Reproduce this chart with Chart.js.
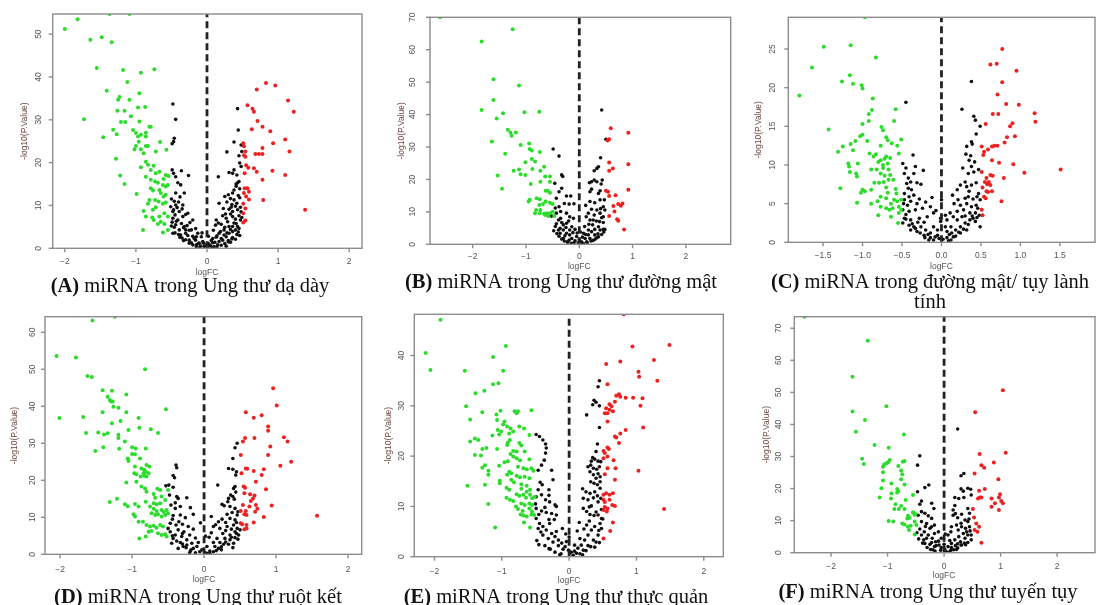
<!DOCTYPE html>
<html><head><meta charset="utf-8">
<script src="https://cdn.jsdelivr.net/npm/chart.js@4.4.1/dist/chart.umd.min.js"></script>
<style>
html,body{margin:0;padding:0;background:#fff;width:1099px;height:605px;overflow:hidden}
canvas{position:absolute;left:0;top:0}
</style></head><body>
<canvas id="cA" width="1099" height="605"></canvas>
<canvas id="cB" width="1099" height="605"></canvas>
<canvas id="cC" width="1099" height="605"></canvas>
<canvas id="cD" width="1099" height="605"></canvas>
<canvas id="cE" width="1099" height="605"></canvas>
<canvas id="cF" width="1099" height="605"></canvas>
<script>
// ---------- captions ----------
const captions = {
  A: ["(A)", " miRNA trong Ung thư dạ dày"],
  B: ["(B)", " miRNA trong Ung thư đường mật"],
  C: ["(C)", " miRNA trong đường mật/ tụy lành", "tính"],
  D: ["(D)", " miRNA trong Ung thư ruột kết"],
  E: ["(E)", " miRNA trong Ung thư thực quản"],
  F: ["(F)", " miRNA trong Ung thư tuyến tụy"]
};
const xTitle = "logFC";
const yTitle = "-log10(P.Value)";

// ---------- tick labels ----------
const xTicksInt = [-2, -1, 0, 1, 2];
const xTicksC = [-1.5, -1.0, -0.5, 0.0, 0.5, 1.0, 1.5];
const yTicksA = [0, 10, 20, 30, 40, 50];
const yTicksB = [0, 10, 20, 30, 40, 50, 60, 70];
const yTicksC = [0, 5, 10, 15, 20, 25];
const yTicksD = [0, 10, 20, 30, 40, 50, 60];
const yTicksE = [0, 10, 20, 30, 40];
const yTicksF = [0, 10, 20, 30, 40, 50, 60, 70];

// ---------- Panel A data [logFC, -log10 P] ----------
const aGreen = [[-2.0,51.2],[-1.82,53.5],[-1.37,54.7],[-1.09,54.7],[-1.64,48.7],[-1.48,49.3],[-1.34,48.1],[-1.55,42.1],[-1.18,41.6],[-0.93,41.0],[-0.74,41.8],[-1.12,38.8],[-1.41,36.8],[-1.23,35.3],[-1.25,34.7],[-1.09,34.7],[-0.95,36.2],[-1.26,32.1],[-1.16,32.1],[-0.97,32.9],[-0.87,33.0],[-1.73,30.1],[-1.07,30.8],[-1.21,29.5],[-1.15,29.5],[-0.95,29.6],[-1.32,27.7],[-1.04,27.6],[-1.27,26.6],[-1.46,25.9],[-1.0,26.9],[-0.97,26.1],[-0.93,26.5],[-0.86,27.0],[-0.81,28.4],[-0.79,28.4],[-0.86,26.1],[-0.66,24.8],[-0.96,24.9],[-1.0,23.9],[-0.86,23.9],[-0.83,23.9],[-1.02,23.1],[-0.93,23.1],[-0.89,22.2],[-0.72,22.6],[-0.57,23.0],[-1.28,20.9],[-0.86,20.2],[-0.83,19.5],[-0.75,19.3],[-0.93,18.9],[-0.79,18.3],[-0.72,17.5],[-0.67,17.9],[-0.58,17.1],[-0.54,16.9],[-0.61,16.2],[-1.22,17.0],[-0.86,16.7],[-0.79,16.0],[-0.73,15.6],[-0.69,15.3],[-0.62,14.8],[-1.16,15.0],[-0.58,14.4],[-0.55,14.8],[-0.79,14.0],[-0.76,13.5],[-0.67,13.6],[-0.65,12.9],[-0.61,12.1],[-0.58,12.5],[-0.99,12.7],[-0.81,11.3],[-0.73,11.3],[-0.68,10.9],[-0.83,10.4],[-0.62,10.4],[-0.58,10.7],[-0.89,8.7],[-0.76,9.0],[-0.72,9.6],[-0.6,8.2],[-0.55,7.4],[-0.67,7.4],[-0.77,7.2],[-0.75,6.6],[-0.86,7.4],[-0.65,6.2],[-0.6,5.7],[-0.69,5.7],[-0.9,4.3],[-0.62,3.7],[-0.55,4.3]];
const aRed = [[0.83,38.6],[0.96,38.0],[0.70,37.1],[1.14,34.5],[1.22,31.9],[0.57,33.4],[0.64,32.6],[0.66,31.9],[0.71,29.7],[0.63,27.8],[0.78,28.4],[0.89,27.3],[1.10,25.4],[0.51,24.5],[0.52,23.8],[0.93,24.5],[0.78,23.4],[0.54,22.6],[0.68,22.0],[0.73,22.0],[0.78,22.0],[1.16,22.6],[0.52,21.7],[0.54,21.4],[0.55,19.4],[0.58,18.8],[0.66,18.7],[0.70,17.9],[0.53,17.5],[0.92,18.1],[1.10,17.1],[0.78,16.0],[0.53,14.0],[0.57,14.0],[0.59,13.2],[0.52,12.9],[0.55,12.1],[0.59,11.4],[0.79,11.3],[0.51,10.4],[0.54,9.3],[1.38,9.0],[0.51,8.2],[0.54,6.5],[0.51,6.0]];
const aBlack = [[-0.48,33.7],[-0.44,30.1],[-0.46,25.7],[-0.47,24.9],[-0.49,24.4],[0.43,32.6],[0.44,27.6],[0.38,24.8],[0.28,22.5],[0.48,24.1],[0.49,22.6],[0.45,21.6],[0.46,19.9],[0.48,19.1],[0.38,18.3],[0.36,17.5],[0.42,17.1],[0.31,17.7],[0.16,16.7],[-0.26,17.0],[-0.49,18.3],[-0.47,17.5],[-0.44,16.7],[-0.36,18.1],[-0.41,15.3],[-0.37,14.8],[0.45,15.6],[0.43,15.3],[0.41,15.0],[-0.44,12.9],[-0.32,12.9],[0.36,12.9],[0.30,12.5],[0.25,12.1],[0.38,11.3],[0.42,10.5],[-0.51,9.7],[-0.44,10.1],[-0.34,10.1],[0.17,10.5],[0.23,9.3],[0.31,9.1],[-0.48,8.6],[-0.39,8.6],[-0.27,8.2],[0.36,8.6],[0.43,9.0],[-0.48,7.0],[-0.41,6.6],[-0.34,7.4],[-0.2,6.6],[0.13,6.6],[0.27,7.0],[0.36,7.4],[0.45,7.6],[-0.44,5.5],[-0.32,5.1],[-0.22,4.3],[-0.13,3.5],[-0.08,2.7],[-0.06,1.6],[-0.01,0.8],[0.03,0.8],[0.08,1.3],[0.13,2.6],[0.17,3.5],[0.24,4.3],[0.31,5.1],[0.41,5.8],[-0.39,4.3],[-0.30,3.5],[-0.18,2.3],[-0.11,1.2],[-0.04,0.4],[0.01,0.2],[0.10,0.4],[0.17,1.6],[0.27,2.7],[0.36,3.9],[0.43,5.1],[-0.37,3.1],[-0.25,1.9],[-0.15,0.8],[0.15,0.8],[0.22,1.9],[0.31,3.5],[-0.48,3.5],[-0.30,4.3],[-0.15,2.7],[0.08,2.3],[0.36,5.1],[-0.50,11.5],[-0.46,11.0],[-0.42,9.5],[-0.38,12.0],[-0.47,9.0],[-0.35,9.2],[-0.30,7.9],[-0.45,7.8],[0.28,10.8],[0.33,11.6],[0.40,9.8],[0.46,11.8],[0.47,9.6],[0.44,12.3],[0.38,13.6],[0.46,13.9],[0.41,14.5],[0.35,10.2],[0.48,8.5],[0.26,8.0],[0.22,7.6],[0.33,8.0],[0.40,6.8],[0.47,6.6],[0.12,5.4],[0.2,5.6],[0.29,6.2],[0.38,5.9],[-0.49,6.1],[-0.43,6.3],[-0.36,5.8],[-0.28,5.3],[-0.25,4.2],[-0.33,4.8],[-0.46,4.9],[-0.40,3.2],[-0.35,2.4],[-0.27,3.0],[-0.2,2.8],[-0.22,1.3],[-0.16,1.9],[-0.12,1.1],[-0.09,0.5],[-0.05,1.2],[-0.03,0.3],[0.02,1.1],[0.05,0.6],[0.06,1.8],[0.11,1.4],[0.14,2.9],[0.2,2.3],[0.24,3.1],[0.19,3.9],[0.28,3.6],[0.33,4.4],[0.25,4.9],[0.4,4.3],[0.44,3.8],[0.35,2.2],[0.3,1.5],[-0.3,2.0],[-0.25,1.2],[-0.2,0.8],[-0.15,0.4],[-0.1,0.15],[0.07,0.1],[0.14,0.3],[0.2,0.7],[0.25,1.1],[0.3,1.8],[0.36,2.5],[0.42,3.2],[-0.38,2.6],[-0.33,1.8],[-0.45,3.6],[0.27,0.5],[0.33,1.4],[0.4,2.1],[0.46,3.0],[-0.07,3.6],[0.02,2.8],[0.09,4.2],[-0.16,4.6],[0.16,5.9],[-0.24,6.0],[0.34,9.6],[-0.4,10.8],[0.45,4.6],[-0.5,5.2],[0.49,7.2]];

// ---------- Panel B data ----------
const bGreen = [[-2.61,70],[-1.25,66.3],[-1.83,62.5],[-1.61,50.9],[-1.13,49.0],[-1.61,44.5],[-1.83,41.4],[-1.43,40.4],[-1.03,40.7],[-0.75,40.9],[-1.55,38.8],[-1.34,35.3],[-1.29,34.5],[-1.19,34.5],[-1.27,33.5],[-1.64,31.7],[-0.94,31.1],[-1.1,30.6],[-0.93,29.4],[-0.89,28.9],[-0.74,28.5],[-1.39,27.9],[-0.89,26.3],[-0.83,25.5],[-1.01,25.3],[-0.66,23.9],[-1.13,23.1],[-1.23,22.7],[-0.88,23.2],[-0.73,22.7],[-1.1,21.6],[-1.01,21.4],[-1.53,21.2],[-0.64,20.9],[-0.55,20.9],[-0.73,19.3],[-0.55,19.3],[-0.91,18.6],[-1.45,17.1],[-0.63,16.5],[-0.59,16.5],[-0.55,15.9],[-0.8,14.2],[-0.74,13.9],[-0.93,13.7],[-0.95,13.2],[-0.63,13.2],[-0.55,12.8],[-0.5,12.4],[-0.68,12.4],[-0.81,10.6],[-0.73,10.6],[-0.83,9.6],[-0.74,9.6],[-0.66,9.4],[-0.61,9.6],[-0.55,9.6],[-0.5,10.0],[-0.58,8.7],[-0.64,9.0],[-0.75,12.1],[-0.47,8.7]];
const bRed = [[0.59,35.8],[0.92,34.4],[0.53,32.0],[0.56,32.4],[0.56,25.2],[0.63,23.4],[0.56,22.7],[0.92,24.7],[0.5,16.5],[0.54,16.2],[0.68,15.1],[0.56,14.9],[0.92,16.8],[0.64,11.8],[0.73,12.4],[0.78,11.9],[0.81,12.6],[0.66,10.1],[0.56,8.7],[0.71,7.7],[0.73,7.3],[0.84,4.6]];
const bBlack = [[0.42,41.4],[-0.49,29.4],[-0.38,27.2],[0.4,26.7],[0.5,32.4],[0.33,23.4],[0.36,23.9],[0.28,22.7],[-0.33,21.4],[-0.31,20.9],[0.19,19.0],[0.23,19.3],[0.28,19.8],[0.33,19.3],[-0.46,18.8],[0.43,19.8],[0.41,18.6],[-0.33,17.3],[-0.38,16.2],[0.2,16.2],[0.23,17.0],[0.39,16.5],[0.36,15.7],[-0.24,14.9],[-0.16,14.9],[-0.43,14.2],[0.2,13.2],[0.29,12.8],[0.39,13.7],[0.47,13.7],[-0.28,12.6],[-0.19,12.4],[-0.38,11.6],[0.45,11.6],[0.48,10.6],[0.39,9.6],[0.33,10.6],[0.23,10.8],[0.17,9.6],[-0.35,10.1],[-0.24,9.6],[-0.43,9.6],[-0.52,8.7],[-0.18,8.5],[-0.11,8.0],[0.13,8.5],[0.2,7.5],[0.26,7.5],[0.38,7.0],[0.45,6.7],[-0.39,7.5],[-0.33,6.7],[-0.24,6.5],[0.45,4.6],[0.48,4.6],[-0.43,6.3],[-0.36,4.9],[-0.30,4.4],[-0.24,3.4],[-0.18,2.9],[-0.14,1.8],[-0.08,1.1],[-0.02,0.5],[0.04,0.8],[0.11,1.8],[0.17,2.9],[0.23,3.9],[0.29,4.6],[0.36,5.4],[0.39,4.4],[-0.36,3.4],[-0.27,2.6],[-0.19,1.3],[-0.10,0.5],[0.03,0.3],[0.14,0.8],[0.2,1.8],[0.29,2.9],[-0.39,4.4],[-0.18,4.4],[0.08,3.4],[0.17,4.4],[-0.05,2.4],[-0.3,6.0],[-0.25,5.2],[-0.12,3.6],[0.0,1.5],[0.06,2.2],[0.12,3.0],[0.25,6.0],[0.32,7.2],[0.42,8.2],[-0.45,5.5],[-0.2,7.2],[0.35,3.2],[0.1,5.5],[-0.08,4.6],[-0.22,0.8],[0.26,1.2],[-0.3,1.8],[0.33,2.0],[-0.04,3.5],[-0.28,1.0],[-0.22,0.6],[-0.15,0.3],[0.08,0.2],[0.15,0.5],[0.22,1.0],[0.3,1.6],[0.36,2.3],[-0.33,1.6],[-0.38,2.5],[-0.42,3.3],[0.42,3.0],[0.46,3.8],[-0.48,4.2],[0.02,3.8],[-0.14,5.4],[0.18,6.2],[-0.35,8.0],[0.28,9.0],[0.4,11.0],[-0.45,11.2],[0.12,12.0],[-0.1,12.5],[0.45,8.5]];

// ---------- Panel C data ----------
const cGreen = [[-0.97,29.1],[-1.49,25.3],[-1.15,25.5],[-0.83,23.9],[-1.64,22.6],[-1.16,21.6],[-1.26,20.8],[-1.12,20.5],[-1.01,20.3],[-1.0,19.9],[-1.80,19.0],[-0.87,18.6],[-0.58,17.2],[-0.88,17.1],[-0.92,16.6],[-0.92,15.7],[-1.0,15.3],[-0.6,15.7],[-1.43,14.6],[-0.76,14.9],[-0.74,14.5],[-1.0,13.9],[-1.03,13.7],[-0.7,13.6],[-0.68,13.2],[-0.51,13.3],[-1.09,13.1],[-0.94,13.1],[-1.15,12.7],[-1.25,12.4],[-0.63,12.8],[-0.56,12.5],[-0.77,12.5],[-1.12,11.9],[-1.31,11.7],[-0.91,11.5],[-0.83,11.4],[-0.86,11.1],[-0.7,11.1],[-0.72,10.8],[-0.65,10.9],[-0.54,11.5],[-1.18,10.2],[-1.06,10.2],[-0.8,10.4],[-0.77,10.6],[-0.74,10.0],[-0.68,10.2],[-1.17,9.8],[-0.89,9.4],[-0.82,9.4],[-0.74,9.6],[-0.67,9.4],[-1.16,9.1],[-1.08,8.9],[-0.77,8.9],[-0.72,8.6],[-0.65,8.7],[-1.07,8.5],[-0.85,7.7],[-0.79,7.7],[-0.73,7.8],[-0.67,8.1],[-0.61,8.1],[-1.28,7.0],[-1.0,6.8],[-1.02,6.4],[-0.97,6.6],[-0.89,6.8],[-0.7,7.1],[-0.68,6.4],[-0.58,6.9],[-0.57,6.3],[-0.77,5.9],[-0.7,5.7],[-1.07,5.1],[-0.89,5.0],[-0.81,5.3],[-0.6,5.5],[-0.56,5.3],[-0.51,5.5],[-0.64,5.0],[-0.77,4.6],[-0.7,4.4],[-0.66,4.2],[-0.62,4.4],[-0.54,4.6],[-0.51,4.2],[-0.54,3.8],[-0.8,3.5],[-0.64,3.3],[-0.55,2.5]];
const cRed = [[0.77,25.0],[0.62,23.0],[0.70,23.1],[0.95,22.2],[0.77,20.7],[0.71,19.1],[0.82,17.9],[0.98,17.8],[1.18,16.7],[1.19,15.6],[0.65,16.6],[0.72,16.6],[0.56,15.3],[0.9,15.4],[0.87,15.0],[0.83,13.6],[0.93,13.7],[0.80,12.9],[0.51,12.4],[0.67,12.5],[0.64,12.4],[0.71,12.5],[0.54,11.7],[0.59,12.0],[0.53,11.3],[0.64,10.6],[0.73,10.3],[0.91,10.1],[1.51,9.4],[1.05,9.0],[0.51,9.1],[0.62,8.7],[0.65,8.6],[0.57,8.3],[0.79,8.3],[0.55,7.8],[0.58,7.5],[0.6,7.8],[0.62,7.4],[0.52,7.1],[0.57,6.6],[0.64,6.6],[0.59,6.5],[0.54,5.9],[0.56,5.7],[0.76,5.3],[0.51,4.2],[0.52,3.5]];
const cBlack = [[-0.45,18.1],[0.38,20.8],[0.26,17.2],[0.41,16.3],[0.43,15.8],[0.49,15.0],[0.44,14.0],[-0.36,11.3],[0.38,13.0],[0.39,12.7],[-0.49,10.2],[0.32,12.4],[0.31,11.4],[0.37,11.2],[0.35,10.6],[-0.47,8.9],[-0.35,8.9],[-0.33,9.8],[-0.23,9.3],[0.38,9.8],[0.34,8.9],[0.41,9.1],[0.47,9.4],[-0.44,7.6],[-0.39,7.8],[-0.31,7.7],[-0.26,7.5],[-0.42,7.0],[0.24,7.4],[0.3,7.8],[0.32,7.2],[0.38,7.4],[0.44,7.7],[-0.47,6.3],[-0.41,5.9],[-0.35,6.1],[-0.28,5.6],[-0.39,5.3],[-0.31,5.0],[-0.47,5.5],[-0.43,4.8],[-0.49,4.2],[-0.41,4.0],[-0.33,4.2],[-0.24,4.4],[0.3,5.7],[0.34,5.9],[0.4,5.6],[0.45,5.9],[0.49,5.5],[0.16,5.0],[0.21,5.5],[0.24,4.8],[0.32,5.0],[0.38,4.6],[0.44,4.8],[0.2,4.0],[0.28,4.2],[0.36,3.8],[0.43,3.8],[0.48,3.5],[0.49,2.0],[-0.47,3.1],[-0.39,2.9],[-0.28,3.1],[-0.18,3.3],[-0.1,3.8],[-0.49,2.5],[-0.41,2.2],[-0.35,2.0],[-0.26,2.0],[-0.2,1.6],[-0.14,1.2],[-0.08,0.7],[-0.03,0.5],[0.02,0.4],[0.07,0.6],[0.13,1.2],[0.18,1.6],[0.24,2.0],[0.3,2.5],[0.36,2.9],[0.43,2.7],[0.32,1.6],[0.24,1.2],[0.15,0.7],[0.09,0.2],[-0.1,0.3],[-0.14,0.6],[-0.22,0.9],[-0.31,1.4],[-0.39,1.6],[-0.05,0.9],[0.07,1.4],[0.12,2.0],[-0.05,1.6],[0.05,2.0],[-0.1,2.0],[-0.01,2.7],[0.07,2.9],[0.11,3.8],[0.15,3.3],[-0.01,3.1],[-0.14,4.6],[0.26,3.3],[0.4,3.1],[-0.22,2.6],[0.2,2.9],[0.1,1.0],[-0.17,1.0],[0.46,4.4],[-0.45,3.6],[0.3,3.4],[-0.3,2.6],[-0.45,3.0],[-0.37,2.4],[-0.33,1.8],[-0.27,1.2],[-0.21,0.6],[-0.16,0.3],[0.12,0.3],[0.18,0.8],[0.22,1.3],[0.28,1.7],[0.34,2.3],[0.39,3.4],[0.45,3.2],[-0.48,5.0],[0.47,6.3],[-0.38,6.8],[0.35,6.6],[-0.2,5.2],[0.14,6.1],[0.0,5.5],[-0.07,4.1],[0.05,3.5],[-0.45,9.6],[0.42,10.4],[-0.42,8.3],[0.27,9.6],[0.2,6.8],[-0.12,5.8]];

// ---------- Panel D data ----------
const dGreen = [[-1.55,63.2],[-1.24,64.2],[-2.05,53.6],[-1.78,53.2],[-0.82,50.0],[-1.62,48.2],[-1.56,47.9],[-1.41,44.3],[-1.28,44.2],[-1.08,43.2],[-1.34,42.6],[-1.31,41.7],[-1.29,41.3],[-1.27,41.3],[-1.26,39.9],[-1.19,39.6],[-0.53,39.2],[-1.41,38.4],[-1.08,38.4],[-1.68,37.1],[-2.01,36.8],[-0.91,36.8],[-1.16,36.0],[-1.28,35.4],[-0.9,34.2],[-1.05,33.6],[-0.74,33.8],[-0.64,32.8],[-1.64,32.8],[-1.47,32.9],[-1.39,32.4],[-1.34,32.7],[-1.19,32.3],[-1.19,31.4],[-1.1,30.5],[-1.4,28.9],[-1.0,28.9],[-0.95,28.6],[-1.51,27.9],[-1.18,28.5],[-0.81,28.6],[-1.0,27.1],[-0.96,27.0],[-1.06,25.9],[-1.05,25.2],[-0.89,25.9],[-0.96,23.7],[-0.8,24.1],[-0.76,23.7],[-0.87,23.2],[-0.83,22.8],[-0.81,22.3],[-0.84,21.9],[-0.77,21.9],[-0.97,21.9],[-0.94,21.6],[-0.88,21.0],[-0.83,21.2],[-0.8,21.0],[-1.08,19.4],[-0.94,19.6],[-0.87,18.3],[-0.82,17.8],[-0.8,16.9],[-0.65,17.7],[-0.61,17.4],[-0.5,17.4],[-0.7,16.3],[-1.21,15.0],[-1.31,14.1],[-0.68,15.3],[-0.59,15.6],[-0.54,14.7],[-0.81,14.2],[-0.7,13.8],[-0.66,13.5],[-0.61,13.8],[-1.1,13.5],[-1.06,13.0],[-0.96,13.6],[-0.91,12.9],[-0.75,12.9],[-0.7,12.3],[-0.66,11.7],[-0.59,12.0],[-0.56,11.4],[-0.52,12.0],[-0.73,11.1],[-0.68,10.6],[-0.64,10.8],[-0.59,10.2],[-0.54,10.6],[-0.5,11.1],[-0.98,10.8],[-0.96,10.2],[-0.91,8.8],[-0.85,8.8],[-0.8,7.9],[-0.75,7.5],[-0.7,7.7],[-0.66,7.2],[-0.61,7.9],[-0.57,7.5],[-0.77,6.1],[-0.73,6.3],[-0.64,5.7],[-0.59,5.2],[-0.54,5.4],[-0.52,4.8],[-0.9,4.3],[-0.81,4.8]];
const dRed = [[0.96,44.9],[1.01,40.2],[0.58,38.4],[0.8,37.6],[0.69,36.9],[0.89,34.5],[0.89,33.4],[1.11,31.6],[0.57,31.4],[0.7,31.4],[1.16,30.5],[0.54,30.5],[0.92,29.1],[0.51,26.8],[0.89,26.8],[1.21,25.0],[1.06,23.9],[0.58,23.2],[0.6,23.1],[0.69,22.5],[0.83,23.0],[0.52,21.9],[0.8,21.4],[0.72,19.6],[0.55,18.3],[0.57,18.0],[0.86,17.6],[0.56,16.5],[0.64,16.2],[0.7,15.9],[0.68,15.1],[0.65,14.4],[0.54,13.3],[0.63,12.9],[0.72,13.3],[0.94,13.2],[0.51,11.7],[0.58,11.7],[0.71,11.5],[0.74,12.3],[0.56,10.8],[0.59,10.6],[1.57,10.4],[0.83,10.1],[0.51,8.4],[0.53,8.1],[0.59,7.9],[0.69,8.6],[0.56,6.8],[0.59,7.0]];
const dBlack = [[-0.39,24.1],[-0.38,23.4],[-0.43,21.3],[-0.41,20.7],[-0.53,18.5],[-0.49,18.7],[-0.43,18.1],[-0.38,15.6],[-0.36,15.1],[-0.24,15.3],[-0.46,13.3],[-0.4,12.4],[-0.33,12.9],[-0.19,12.6],[0.46,30.0],[0.43,28.8],[0.4,25.9],[0.34,23.2],[0.4,23.0],[0.45,22.3],[0.44,21.4],[0.19,18.7],[0.41,17.8],[0.43,18.3],[0.37,16.0],[0.4,15.6],[0.34,15.1],[0.42,14.9],[0.25,13.5],[0.28,13.1],[0.36,12.9],[0.43,12.4],[-0.43,10.5],[-0.33,10.6],[-0.26,9.9],[-0.15,10.8],[0.32,10.8],[0.25,9.5],[0.2,8.8],[0.36,9.7],[0.43,9.3],[0.46,10.6],[-0.47,8.4],[-0.39,7.9],[-0.3,8.1],[-0.22,7.5],[0.13,7.5],[0.22,7.0],[0.32,7.5],[0.41,7.9],[0.46,7.0],[-0.47,6.1],[-0.40,5.2],[-0.31,4.8],[-0.24,3.9],[-0.17,3.0],[-0.10,2.1],[-0.03,1.2],[0.01,0.5],[0.08,0.9],[0.15,2.1],[0.22,3.2],[0.29,4.3],[0.36,5.2],[0.43,6.1],[0.48,5.2],[-0.43,4.3],[-0.33,3.2],[-0.24,2.5],[-0.15,1.6],[-0.06,0.7],[0.04,0.3],[0.13,0.7],[0.2,1.6],[0.27,2.7],[0.36,3.9],[0.43,4.5],[-0.45,3.0],[-0.29,2.1],[-0.19,0.9],[0.34,2.7],[0.41,3.0],[0.18,4.3],[0.04,2.1],[-0.08,3.2],[0.13,3.2],[-0.36,6.6],[-0.28,6.1],[-0.2,5.2],[0.1,5.8],[0.26,5.6],[0.38,6.8],[0.45,8.6],[0.3,8.6],[-0.44,9.5],[-0.35,8.8],[0.47,4.1],[-0.12,4.4],[0.24,1.2],[-0.36,1.6],[0.4,1.8],[0.07,4.6],[-0.2,0.4],[0.47,11.5],[0.39,11.3],[-0.38,3.6],[-0.3,2.8],[-0.25,1.8],[-0.18,1.2],[-0.12,0.4],[0.08,0.3],[0.17,1.0],[0.24,2.0],[0.3,3.3],[0.38,4.6],[0.45,5.6],[-0.44,5.0],[-0.5,7.0],[0.5,6.6],[-0.3,5.6],[0.3,6.4],[0.02,4.9],[-0.15,6.8],[0.16,8.0],[-0.4,13.9],[0.33,14.2],[-0.48,16.0],[0.44,16.8],[-0.05,8.5],[0.1,10.2]];

// ---------- Panel E data ----------
const eGreen = [[-1.91,47.1],[-2.13,40.5],[-2.06,37.1],[-0.94,41.9],[-1.13,39.7],[-1.55,37.0],[-0.98,37.0],[-1.05,34.5],[-1.13,34.3],[-1.26,33.0],[-1.39,32.5],[-1.53,29.9],[-1.29,28.7],[-0.56,29.1],[-1.02,29.0],[-1.08,28.3],[-0.81,28.9],[-0.78,28.5],[-0.76,28.9],[-1.47,27.3],[-1.07,27.2],[-0.96,26.9],[-0.98,26.3],[-0.92,25.9],[-0.87,25.5],[-1.06,25.2],[-1.01,24.9],[-1.04,24.3],[-0.74,25.9],[-0.67,25.5],[-0.89,24.5],[-0.83,24.9],[-0.59,24.2],[-1.14,24.1],[-1.4,23.5],[-1.35,23.2],[-1.47,22.9],[-0.88,23.2],[-0.91,22.7],[-0.92,22.2],[-0.74,22.6],[-0.71,22.1],[-1.23,21.6],[-1.29,21.4],[-1.07,21.4],[-0.83,21.0],[-0.78,20.9],[-0.87,20.4],[-1.4,20.2],[-1.31,20.1],[-0.66,20.9],[-0.83,19.9],[-0.78,19.6],[-0.73,19.2],[-0.91,19.0],[-0.96,18.8],[-0.59,19.4],[-1.25,18.2],[-1.29,17.7],[-1.2,17.1],[-1.04,18.1],[-0.76,17.9],[-0.68,17.6],[-0.63,17.4],[-0.56,17.6],[-0.53,17.1],[-0.89,16.9],[-0.86,16.6],[-0.92,16.3],[-1.2,16.3],[-0.78,16.1],[-0.73,15.8],[-0.66,15.9],[-0.59,15.6],[-1.03,15.1],[-1.03,14.6],[-0.86,15.3],[-0.82,14.8],[-1.51,14.1],[-1.25,14.3],[-0.71,14.4],[-0.63,14.1],[-0.93,13.7],[-0.89,13.3],[-0.71,13.5],[-0.63,12.9],[-0.58,13.3],[-0.78,12.4],[-0.74,12.1],[-0.68,12.3],[-0.64,11.7],[-0.58,12.3],[-0.55,11.6],[-0.51,11.9],[-0.93,11.7],[-0.88,11.3],[-0.83,11.1],[-0.71,10.6],[-0.66,10.3],[-0.59,10.6],[-0.55,10.3],[-1.2,10.5],[-0.79,10.0],[-0.76,9.5],[-0.69,9.1],[-0.59,9.6],[-0.55,9.0],[-0.52,8.3],[-0.56,8.4],[-0.68,8.2],[-0.63,8.0],[-0.72,8.4],[-0.67,6.8],[-0.58,5.8],[-1.1,5.8]];
const eRed = [[0.81,48.2],[1.49,42.1],[0.94,41.8],[1.26,39.1],[0.76,38.8],[0.55,38.3],[1.03,36.8],[1.31,35.0],[1.04,35.8],[0.57,34.3],[0.7,32.0],[0.74,32.3],[0.76,31.8],[0.84,31.6],[0.95,31.6],[1.09,31.5],[0.68,30.8],[0.6,30.3],[0.63,29.9],[1.06,30.0],[0.55,29.5],[0.6,29.2],[0.53,28.5],[0.57,28.5],[0.65,28.9],[0.57,26.9],[1.1,25.7],[0.84,25.2],[0.76,24.5],[0.68,23.9],[0.7,23.7],[0.74,22.6],[0.57,21.7],[0.59,21.4],[0.51,21.0],[0.53,20.6],[0.57,19.9],[0.51,19.6],[0.66,19.2],[0.57,17.6],[0.69,17.6],[1.03,17.1],[0.53,16.4],[0.68,15.3],[0.55,12.6],[0.51,12.3],[0.6,12.3],[0.65,12.6],[0.6,11.3],[0.51,11.3],[0.53,10.9],[0.64,10.3],[0.68,10.1],[0.53,9.9],[0.57,9.6],[0.51,9.3],[0.56,9.0],[1.41,9.5],[0.65,6.8],[0.61,5.1],[0.51,3.6]];
const eBlack = [[-0.49,24.3],[-0.44,23.9],[-0.39,23.2],[-0.35,22.4],[-0.34,21.6],[-0.35,20.6],[-0.41,18.2],[-0.46,17.2],[-0.26,17.2],[-0.24,15.3],[-0.4,14.3],[-0.46,13.3],[-0.3,13.3],[0.45,35.0],[0.43,33.8],[0.37,31.1],[0.4,30.7],[0.35,30.2],[0.45,30.0],[0.26,28.2],[0.45,25.7],[0.42,22.4],[0.4,20.9],[0.35,19.7],[0.38,19.4],[0.43,19.0],[0.47,18.9],[0.28,17.9],[0.32,18.2],[0.36,17.6],[0.41,17.4],[0.45,17.9],[0.31,16.9],[0.36,16.3],[0.4,15.6],[0.46,15.9],[0.32,14.9],[0.37,14.6],[0.42,14.3],[0.46,14.9],[0.2,13.5],[0.25,12.9],[0.31,12.6],[0.38,12.9],[0.46,13.6],[-0.49,11.9],[-0.41,12.3],[-0.35,11.3],[-0.29,10.9],[-0.21,10.3],[-0.19,10.0],[0.21,11.6],[0.28,11.3],[0.36,11.7],[0.43,10.9],[0.47,11.6],[-0.49,9.6],[-0.41,9.1],[-0.34,8.8],[-0.26,8.6],[-0.19,8.3],[0.21,9.6],[0.26,9.0],[0.31,8.4],[0.37,8.2],[0.43,8.3],[0.48,7.6],[-0.49,7.6],[-0.44,6.6],[-0.39,6.0],[-0.34,5.3],[-0.26,4.6],[-0.21,4.0],[-0.16,3.3],[-0.11,2.7],[-0.06,2.0],[-0.01,1.3],[0.03,0.9],[0.08,1.1],[0.13,1.7],[0.18,2.3],[0.23,3.3],[0.28,4.3],[0.33,5.3],[0.38,6.0],[0.46,6.6],[-0.46,5.6],[-0.39,4.3],[-0.31,3.6],[-0.24,2.9],[-0.16,2.2],[-0.09,1.5],[0.01,0.7],[0.11,0.7],[0.21,1.3],[0.28,2.2],[0.36,3.3],[0.43,4.3],[0.48,5.6],[0.08,2.3],[-0.04,3.0],[0.16,3.6],[-0.19,5.0],[0.26,6.3],[-0.29,6.6],[-0.45,8.4],[-0.3,7.4],[0.3,7.1],[0.4,8.9],[-0.36,9.8],[0.12,5.1],[-0.05,4.5],[0.48,9.4],[-0.48,3.2],[0.45,2.8],[0.33,10.1],[0.42,12.1],[-0.12,0.6],[0.2,0.4],[-0.3,1.6],[0.38,1.9],[-0.36,2.2],[-0.28,1.5],[-0.21,0.9],[-0.14,0.4],[0.06,0.3],[0.16,0.6],[0.25,1.2],[0.32,2.0],[0.4,2.9],[-0.42,4.9],[-0.45,2.4],[0.44,5.2],[0.5,7.5],[-0.5,10.5],[-0.43,14.8],[0.43,16.5],[0.33,19.0],[-0.37,19.2],[0.0,3.9],[-0.1,5.6],[0.15,6.8],[-0.22,7.4],[0.22,5.5],[0.3,9.9],[-0.3,12.2]];

// ---------- Panel F data ----------
const fGreen = [[-2.47,73.6],[-1.35,66.1],[-1.62,54.9],[-1.02,45.7],[-1.62,44.0],[-1.4,41.4],[-1.56,37.7],[-0.71,36.9],[-1.23,33.6],[-0.98,32.7],[-1.45,29.3],[-0.96,28.9],[-0.99,28.2],[-1.06,27.5],[-1.02,27.9],[-1.42,27.7],[-0.73,28.4],[-0.7,28.6],[-0.81,27.0],[-1.08,26.8],[-0.76,25.6],[-0.74,24.5],[-1.08,25.1],[-0.76,22.9],[-0.7,21.3],[-1.08,22.5],[-0.93,21.6],[-1.11,20.1],[-0.83,19.9],[-0.81,19.2],[-0.83,18.8],[-0.93,18.5],[-0.55,18.0],[-0.94,16.9],[-1.14,17.2],[-0.68,16.4],[-0.86,15.1],[-0.76,14.6],[-0.88,13.6],[-0.8,13.6],[-0.7,13.6],[-0.53,12.3],[-0.51,12.0],[-0.55,12.6],[-0.52,11.8],[-0.64,11.5],[-0.61,10.9],[-0.65,10.7],[-0.98,9.9],[-0.9,9.7],[-0.74,9.1],[-0.7,8.8],[-0.64,8.1],[-0.59,8.4],[-0.52,9.7],[-0.49,8.6],[-0.62,7.1],[-0.52,5.7]];
const fRed = [[1.04,50.7],[0.55,43.8],[1.09,31.2],[0.63,30.8],[0.66,27.3],[0.71,26.5],[0.88,28.1],[0.54,24.7],[0.96,22.9],[0.72,19.9],[0.62,19.3],[0.66,17.2],[0.63,17.2],[0.6,16.9],[0.99,18.2],[0.97,17.2],[0.84,14.3],[0.9,15.4],[1.01,16.1],[1.04,15.4],[0.97,13.3],[0.84,16.9],[0.51,13.6],[0.53,11.0],[0.57,9.1],[0.62,8.1],[0.59,6.5],[0.54,7.1],[0.66,3.1]];
const fBlack = [[0.24,38.6],[-0.43,30.2],[-0.47,27.3],[0.35,24.7],[0.3,24.0],[-0.34,20.3],[-0.27,21.1],[-0.47,19.0],[0.3,19.9],[0.34,19.2],[0.42,20.1],[0.47,19.8],[0.19,17.2],[0.26,16.9],[0.35,17.2],[0.48,18.0],[-0.4,16.1],[-0.43,15.1],[-0.22,15.4],[-0.18,13.8],[0.19,14.7],[0.16,13.3],[0.42,13.8],[0.45,12.3],[-0.46,11.7],[-0.34,12.3],[-0.28,11.5],[-0.22,10.7],[0.16,11.7],[0.24,10.9],[0.31,12.0],[0.37,10.2],[0.42,9.7],[-0.4,9.7],[-0.31,9.1],[-0.22,8.1],[-0.17,8.6],[0.13,8.1],[0.22,8.6],[0.31,8.1],[0.38,7.6],[0.45,8.1],[-0.43,7.4],[-0.35,6.5],[-0.28,5.5],[-0.21,4.5],[-0.15,3.4],[-0.09,2.4],[-0.05,1.6],[0.01,1.1],[0.07,1.9],[0.13,2.9],[0.19,4.0],[0.26,5.0],[0.34,6.0],[0.4,6.5],[0.48,5.5],[-0.4,5.5],[-0.31,4.5],[-0.22,3.2],[-0.14,2.2],[-0.06,0.8],[0.04,0.3],[0.12,0.8],[0.2,2.2],[0.29,3.4],[0.37,4.5],[0.42,5.5],[-0.34,2.9],[-0.17,1.9],[0.13,1.6],[0.31,2.4],[0.42,3.2],[-0.05,4.5],[0.07,5.5],[-0.17,6.0],[-0.25,7.6],[0.25,7.1],[0.48,4.0],[-0.25,2.6],[0.24,2.8],[-0.1,3.6],[0.1,3.8],[-0.36,4.0],[0.36,3.0],[0.0,2.6],[-0.2,0.9],[0.22,1.0],[-0.3,1.6],[-0.24,1.0],[-0.16,0.5],[0.1,0.3],[0.17,0.9],[0.24,1.5],[0.3,2.4],[0.38,2.5],[-0.38,3.0],[-0.45,4.3],[0.46,6.8],[-0.48,6.2],[0.02,5.8],[-0.1,6.5],[0.12,6.5],[-0.33,8.2],[0.3,9.2],[0.44,10.5],[-0.4,12.8],[0.2,12.2]];

// ---------- colours ----------
const GREEN = '#2bdc2b', RED = '#ee2020', BLACK = '#111111';

// ---------- panel geometry (layout only) ----------
const panels = [
  {id:'cA', cap:captions.A, green:aGreen, red:aRed, black:aBlack, xt:xTicksInt, yt:yTicksA, xr:[-2.17,2.18], yr:[0,54.7],
   box:[52.7,14,362,248.3], xlabY:262, xtitY:273, ylabX:39, ytitX:25, capY:[287], capX:190},
  {id:'cB', cap:captions.B, green:bGreen, red:bRed, black:bBlack, xt:xTicksInt, yt:yTicksB, xr:[-2.8,2.84], yr:[0,70],
   box:[430,17.3,730.7,244.3], xlabY:257, xtitY:267, ylabX:413, ytitX:401.7, capY:[283], capX:561},
  {id:'cC', cap:captions.C, green:cGreen, red:cRed, black:cBlack, xt:xTicksC, yt:yTicksC, xr:[-1.94,1.945], yr:[0,29.1], dec:1,
   box:[788.3,17.3,1097.7,242.3], xlabY:256, xtitY:266.7, ylabX:773, ytitX:759, capY:[283,303], capX:930},
  {id:'cD', cap:captions.D, green:dGreen, red:dRed, black:dBlack, xt:xTicksInt, yt:yTicksD, xr:[-2.21,2.19], yr:[0,64.2],
   box:[45,316.7,361.7,554.3], xlabY:570, xtitY:580, ylabX:33, ytitX:15, capY:[598], capX:198},
  {id:'cE', cap:captions.E, green:eGreen, red:eRed, black:eBlack, xt:xTicksInt, yt:yTicksE, xr:[-2.3,2.29], yr:[0,48.2],
   box:[414.3,314.3,723.3,556.7], xlabY:571.7, xtitY:581, ylabX:401.7, ytitX:388.3, capY:[597.7], capX:556},
  {id:'cF', cap:captions.F, green:fGreen, red:fRed, black:fBlack, xt:xTicksInt, yt:yTicksF, xr:[-2.65,2.67], yr:[0,73.6],
   box:[794.3,316.7,1095,552.7], xlabY:566.7, xtitY:575.7, ylabX:778.3, ytitX:766.7, capY:[592.3], capX:928}
];

const toPts = arr => arr.map(p => ({x:p[0], y:p[1]}));

const rAxes = {
  id: 'rAxes',
  afterDraw(chart) {
    const P = chart.options.plugins.rAxes;
    const ctx = chart.ctx, ca = chart.chartArea;
    const sx = chart.scales.x, sy = chart.scales.y;
    ctx.save();
    ctx.strokeStyle = '#8c8c8c'; ctx.lineWidth = 1.4;
    ctx.strokeRect(ca.left, ca.top, ca.right - ca.left, ca.bottom - ca.top);
    ctx.fillStyle = '#555'; ctx.font = '8.5px "Liberation Sans", Arial, sans-serif';
    ctx.textAlign = 'center'; ctx.textBaseline = 'middle';
    P.xt.forEach(v => {
      const px = sx.getPixelForValue(v);
      ctx.beginPath(); ctx.moveTo(px, ca.bottom); ctx.lineTo(px, ca.bottom + 4); ctx.stroke();
      const lab = P.dec ? v.toFixed(P.dec) : String(v);
      ctx.fillText(lab.replace('-', '\u2212'), px, P.xlabY);
    });
    ctx.fillText(xTitle, sx.getPixelForValue(0), P.xtitY);
    P.yt.forEach(v => {
      const py = sy.getPixelForValue(v);
      ctx.beginPath(); ctx.moveTo(ca.left, py); ctx.lineTo(ca.left - 4, py); ctx.stroke();
      ctx.save(); ctx.translate(P.ylabX, py); ctx.rotate(-Math.PI / 2);
      ctx.fillText(String(v), 0, 0); ctx.restore();
    });
    ctx.save(); ctx.translate(P.ytitX, (ca.top + ca.bottom) / 2); ctx.rotate(-Math.PI / 2);
    ctx.fillStyle = '#6a4640'; ctx.fillText(yTitle, 0, 0); ctx.restore();
    ctx.fillStyle = '#111'; ctx.textBaseline = 'middle';
    const boldF = 'bold 20.5px "Liberation Serif", "Times New Roman", serif';
    const regF = '20.5px "Liberation Serif", "Times New Roman", serif';
    ctx.font = boldF; const w1 = ctx.measureText(P.cap[0]).width;
    ctx.font = regF; const w2 = ctx.measureText(P.cap[1]).width;
    const x0 = P.capX - (w1 + w2) / 2;
    ctx.textAlign = 'left';
    ctx.font = boldF; ctx.fillText(P.cap[0], x0, P.capY[0]);
    ctx.font = regF; ctx.fillText(P.cap[1], x0 + w1, P.capY[0]);
    if (P.cap[2]) { ctx.textAlign = 'center'; ctx.fillText(P.cap[2], P.capX, P.capY[1]); }
    ctx.restore();
  }
};

panels.forEach(P => {
  const [L, T, R, B] = P.box;
  new Chart(document.getElementById(P.id), {
    type: 'scatter',
    data: {
      datasets: [
        {type:'line', data:[{x:0,y:P.yr[0]},{x:0,y:P.yr[1]}], borderColor:'#222', borderWidth:2.8,
         borderDash:[7,4], pointRadius:0, fill:false, order:0},
        {data:toPts(P.black), backgroundColor:BLACK, borderWidth:0, pointRadius:1.8, order:3},
        {data:toPts(P.green), backgroundColor:GREEN, borderWidth:0, pointRadius:2.0, order:2},
        {data:toPts(P.red), backgroundColor:RED, borderWidth:0, pointRadius:2.0, order:1}
      ]
    },
    options: {
      responsive:false, animation:false, devicePixelRatio:1,
      layout:{padding:{left:L, top:T, right:1099 - R, bottom:605 - B}},
      scales:{
        x:{type:'linear', min:P.xr[0], max:P.xr[1], display:false},
        y:{type:'linear', min:P.yr[0], max:P.yr[1], display:false}
      },
      plugins:{legend:{display:false}, tooltip:{enabled:false}, rAxes:P}
    },
    plugins:[rAxes]
  });
});
</script>
</body></html>
